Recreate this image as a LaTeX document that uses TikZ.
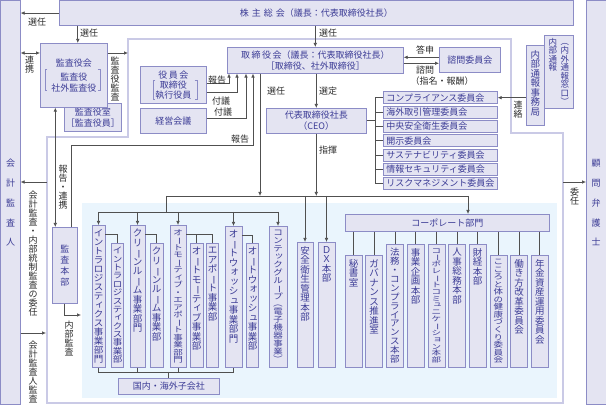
\documentclass[tikz,border=0pt]{standalone}
\usepackage{fontspec}
\usepackage{graphicx}
\usetikzlibrary{arrows.meta,positioning}

\newfontfamily\jp{Noto Sans CJK JP}

\definecolor{boxline}{HTML}{8C8CC6}
\definecolor{boxfill}{HTML}{E4E4F2}
\definecolor{boxtext}{HTML}{3C3C96}
\definecolor{framec}{HTML}{CACAE6}
\definecolor{bluebg}{HTML}{EAF5FD}
\definecolor{linec}{HTML}{505050}
\definecolor{labtext}{HTML}{2A2A2A}

% vertical writing: one character per line
\makeatletter
\newcommand\vsmall[1]{\raisebox{0.13em}{\kern0.13em#1\kern-0.13em}}
\newcommand\vfix[1]{%
  \ifx#1ー\rotatebox[origin=c]{-90}{ー}%
  \else\ifx#1（\rotatebox[origin=c]{-90}{（}%
  \else\ifx#1）\rotatebox[origin=c]{-90}{）}%
  \else\ifx#1ッ\vsmall{ッ}%
  \else\ifx#1ィ\vsmall{ィ}%
  \else\ifx#1ュ\vsmall{ュ}%
  \else\ifx#1ョ\vsmall{ョ}%
  \else\ifx#1ォ\vsmall{ォ}%
  \else #1\fi\fi\fi\fi\fi\fi\fi\fi}
\def\vst@loop#1{\ifx\relax#1\else\hbox to 1em{\hss\vfix{#1}\hss}\expandafter\vst@loop\fi}
\newcommand\vstack[1]{\vtop{\baselineskip=1em\lineskiplimit=-\maxdimen\lineskip=0pt\vst@loop#1\relax}}
\makeatother

% vertical text, squeezed to #2 pt when too long
\newsavebox\vbx
\newdimen\vdim
\newcommand\vlab[3][9.5]{{\fontsize{#1}{#1}\selectfont
  \sbox\vbx{\vstack{#3}}\vdim=\dimexpr\ht\vbx+\dp\vbx\relax
  \ifdim\vdim>#2pt\pgfmathsetmacro\vfac{#2/\vdim}\else\def\vfac{1}\fi
  \vbox to #2pt{\hbox{\scalebox{1}[\vfac]{\usebox\vbx}}\vss}}}
\newcommand\vtxt[2][9]{{\fontsize{#1}{#1}\selectfont\vstack{#2}}}
\newcommand\brackets[1]{%
  \draw[brkline] ([xshift=2.5pt]#1.north west) -- (#1.north west) -- (#1.south west) -- ([xshift=2.5pt]#1.south west);
  \draw[brkline] ([xshift=-2.5pt]#1.north east) -- (#1.north east) -- (#1.south east) -- ([xshift=-2.5pt]#1.south east);}

\tikzset{
  box/.style={draw=boxline, fill=boxfill, text=boxtext, line width=0.6pt, inner sep=0pt,
    font=\jp\fontsize{9}{11}\selectfont, align=center},
  vbox/.style={box, anchor=north, inner ysep=4pt},
  cbox/.style={box, anchor=west, minimum height=12pt, text width=108pt, inner xsep=3pt, align=left},
  lab/.style={text=labtext, font=\jp\fontsize{9}{10}\selectfont, inner sep=0pt},
  conn/.style={draw=linec, line width=0.7pt},
  arr/.style={conn, -{Latex[length=4pt,width=3.6pt]}},
  arr2/.style={conn, {Latex[length=4pt,width=3.6pt]}-{Latex[length=4pt,width=3.6pt]}},
  brkline/.style={draw=boxline, line width=0.6pt},
  outerframe/.style={draw=framec, line width=2.2pt}
}

\begin{document}
\begin{tikzpicture}[x=1pt, y=-1pt]
\useasboundingbox (0,0) rectangle (606,406);

%podloge
    \fill[bluebg] (82,203) rectangle (557,398);
    \draw[outerframe] (128,39) -- (511,39) -- (511,133) -- (563,133) -- (563,403)
        -- (47,403) -- (47,137) -- (128,137) -- cycle;

%bocni okviri
    \node[box, minimum width=19.5pt, minimum height=404pt, anchor=north west,
        font=\jp\fontsize{9}{19.8}\selectfont] (kaikei) at (0.5,0.5) {会\\計\\監\\査\\人};
    \node[box, minimum width=19.5pt, minimum height=404pt, anchor=north west,
        font=\jp\fontsize{9}{19.8}\selectfont] (bengoshi) at (586,0.5) {顧\\問\\弁\\護\\士};

%gornji dio
    \node[box, minimum width=514pt, minimum height=24.5pt, anchor=north west] (soukai)
        at (59,0.5) {株\hspace{3pt}主\hspace{3pt}総\hspace{3pt}会（議長：代表取締役社長）};

    %nadzor
    \node[box, minimum width=57pt, minimum height=28pt, anchor=north west] (kansashitsu)
        at (64,103) {監査役室\\［監査役員］};
    \node[box, minimum width=67pt, minimum height=64pt, anchor=north west] (kansa)
        at (40,43) {監査役会\\[3pt]監査役\\社外監査役};
    \node[minimum width=55pt, minimum height=20pt, inner sep=0pt] (kansaB) at (72.5,80) {};
    \brackets{kansaB}

    %uprava
    \node[box, minimum width=66pt, minimum height=37pt, anchor=north west,
        font=\jp\fontsize{9}{10}\selectfont] (yakuin) at (140,66) {役\,員\,会\\取締役\\執行役員};
    \node[minimum width=44pt, minimum height=18pt, inner sep=0pt] (yakuinB) at (175,90) {};
    \brackets{yakuinB}
    \node[box, minimum width=66pt, minimum height=25pt, anchor=north west] (keiei)
        at (140,108) {経営会議};
    \node[box, minimum width=176pt, minimum height=26pt, anchor=north west] (torishimari)
        at (227,47) {取\,締\,役\,会（議長：代表取締役社長）\\［取締役、社外取締役］};
    \node[box, minimum width=61pt, minimum height=25pt, anchor=north west] (shimon)
        at (439,47) {諮問委員会};
    \node[box, minimum width=29pt, minimum height=73pt, anchor=north west] (tsuho)
        at (544,35) {\hbox{\vtxt[8.5]{内部通報}\hspace{3.5pt}\vtxt[8.5]{（内外通報窓口）}}};
    \node[box, minimum width=18pt, minimum height=80pt, anchor=north west] (jimu)
        at (526,45) {\vlab{70}{内部通報事務局}};
    \node[box, minimum width=100pt, minimum height=25pt, anchor=north west] (ceo)
        at (266,108) {代表取締役社長\\（CEO）};

    %odbori
    \node[cbox] (c1) at (383,97.7) {コンプライアンス委員会};
    \node[cbox] (c2) at (383,112) {海外取引管理委員会};
    \node[cbox] (c3) at (383,126.3) {中央安全衛生委員会};
    \node[cbox] (c4) at (383,140.6) {開示委員会};
    \node[cbox] (c5) at (383,154.9) {サステナビリティ委員会};
    \node[cbox] (c6) at (383,169.2) {情報セキュリティ委員会};
    \node[cbox] (c7) at (383,183.5) {リスクマネジメント委員会};

%donji dio
    \node[box, minimum width=25pt, minimum height=76pt, anchor=north west] (honbu)
        at (52,227) {監\\査\\本\\部};

    %poslovni odjeli
    \node[vbox, minimum width=13pt] (ilog) at (98.5,225) {\vlab{134}{イントラロジスティクス事業部門}};
    \node[vbox, minimum width=12pt] (ilog2) at (117.5,243) {\vlab{116}{イントラロジスティクス事業部}};
    \node[vbox, minimum width=15pt] (clean) at (137.5,225) {\vlab{134}{クリーンルーム事業部門}};
    \node[vbox, minimum width=13pt] (clean2) at (156.5,243) {\vlab{116}{クリーンルーム事業部}};
    \node[vbox, minimum width=16pt] (auto) at (178,225) {\vlab{134}{オートモーティブ・エアポート事業部門}};
    \node[vbox, minimum width=13pt] (auto2) at (196.5,243) {\vlab{116}{オートモーティブ事業部}};
    \node[vbox, minimum width=12pt] (air) at (212.5,243) {\vlab{116}{エアポート事業部}};
    \node[vbox, minimum width=17pt] (wash) at (233.5,226) {\vlab{133}{オートウォッシュ事業部門}};
    \node[vbox, minimum width=12pt] (wash2) at (252.5,243) {\vlab{116}{オートウォッシュ事業部}};
    \node[vbox, minimum width=18pt] (contec) at (278,226) {\vlab{133}{コンテックグループ（電子機器事業）}};
    \node[vbox, minimum width=16pt] (anzen) at (305,242) {\vlab{117}{安全衛生管理本部}};
    \node[vbox, minimum width=17pt] (dx) at (326.5,242) {\vlab{117}{ＤＸ本部}};
    \node[box, minimum width=101pt, minimum height=16pt, anchor=north west] (kogaisha)
        at (118,378) {国内・海外子会社};

    %korporativni odjel
    \node[box, minimum width=204pt, minimum height=17pt, anchor=north west] (corp)
        at (345,214) {コーポレート部門};
    \node[vbox, minimum width=17pt] (s1) at (353.5,255) {\vlab{104}{秘書室}};
    \node[vbox, minimum width=17pt] (s2) at (374.2,255) {\vlab{104}{ガバナンス推進室}};
    \node[vbox, minimum width=17pt] (s3) at (394.9,244) {\vlab{115}{法務・コンプライアンス本部}};
    \node[vbox, minimum width=17pt] (s4) at (415.6,244) {\vlab{115}{事業企画本部}};
    \node[vbox, minimum width=17pt] (s5) at (436.3,244) {\vlab{115}{コーポレートコミュニケーション本部}};
    \node[vbox, minimum width=17pt] (s6) at (457,244) {\vlab{115}{人事総務本部}};
    \node[vbox, minimum width=17pt] (s7) at (477.7,244) {\vlab{115}{財経本部}};
    \node[vbox, minimum width=17pt] (s8) at (498.4,255) {\vlab{104}{こころと体の健康づくり委員会}};
    \node[vbox, minimum width=17pt] (s9) at (519.1,255) {\vlab{104}{働き方改革委員会}};
    \node[vbox, minimum width=17pt] (s10) at (539.8,255) {\vlab{104}{年金資産運用委員会}};

%veze
    \coordinate (sen2) at ([xshift=4pt]kansa.north);
    \coordinate (renL) at ([yshift=-10pt]kansa.north west);
    \coordinate (kkR) at ([yshift=-10pt]kansa.north east);
    \coordinate (frameNW) at (128,39);
    \draw[arr] (soukai.west) -- (soukai.west -| kaikei.east);
    \draw[arr] (sen2 |- soukai.south) -- (sen2);
    \draw[arr] (soukai.south -| torishimari.north) -- (torishimari.north);
    \draw[arr2] (renL) -- (renL -| kaikei.east);
    \draw[arr] (kkR) -- (kkR -| frameNW);

    \coordinate (hrL) at ([xshift=-9.5pt]honbu.north);
    \coordinate (hkU) at ([xshift=6.5pt]honbu.north);
    \coordinate (hk) at (253,145);
    \draw[arr2] (hrL |- kansa.south) -- (hrL);
    \draw[arr] (hkU) |- (hk) -- (hk |- torishimari.south);

    \coordinate (yk1) at ([yshift=1.5pt]yakuin.east);
    \coordinate (yk2) at ([yshift=-7.5pt]yakuin.east);
    \coordinate (kg1) at ([yshift=2.5pt]keiei.east);
    \draw[arr] (yk1) -| ([xshift=2pt]torishimari.south west);
    \draw[arr] (yk2) -| ([xshift=10pt]torishimari.south west);
    \draw[arr] (kg1) -| ([xshift=19pt]torishimari.south west);

    \coordinate (tsT) at ([yshift=2.5pt]shimon.west);
    \coordinate (smT) at ([yshift=-3pt]torishimari.east);
    \draw[arr] (tsT) -- (tsT -| torishimari.east);
    \draw[arr] (smT) -- (smT -| shimon.west);
    \draw[arr] (jimu.west |- c1.east) -- (c1.east);

    %CEO i odbori
    \coordinate (cmb) at ([xshift=-8pt]c1.west);
    \draw[conn] (cmb) -- (cmb |- c7.west);
    \draw[conn] (ceo.east) -- (ceo.east -| cmb);
    \draw[conn] (cmb) -- (c1.west);
    \draw[conn] (cmb |- c2.west) -- (c2.west);
    \draw[conn] (cmb |- c3.west) -- (c3.west);
    \draw[conn] (cmb |- c4.west) -- (c4.west);
    \draw[conn] (cmb |- c5.west) -- (c5.west);
    \draw[conn] (cmb |- c6.west) -- (c6.west);
    \draw[conn] (cmb |- c7.west) -- (c7.west);

    %sabirnica
    \coordinate (senT) at ([xshift=33pt]torishimari.south west);
    \coordinate (busL) at (166,196);
    \coordinate (busR) at (468,196);
    \coordinate (sb) at (166,212);
    \draw[arr] (senT) -- (senT |- busL);
    \draw[arr] (ceo.north |- torishimari.south) -- (ceo.north);
    \draw[arr] (ceo.south) -- (ceo.south |- busL);
    \draw[conn] (busL) -- (busR);
    \draw[arr] (busR) -- (busR |- corp.north);
    \draw[arr] (anzen.north |- busL) -- (anzen.north);
    \draw[arr] (dx.north |- busL) -- (dx.north);
    \draw[conn] (busL) -- (sb);
    \draw[conn] (ilog.north |- sb) -- (contec.north |- sb);
    \draw[arr] (ilog.north |- sb) -- (ilog.north);
    \draw[arr] (clean.north |- sb) -- (clean.north);
    \draw[arr] (auto.north |- sb) -- (auto.north);
    \draw[arr] (wash.north |- sb) -- (wash.north);
    \draw[arr] (contec.north |- sb) -- (contec.north);

    \draw[conn] ([yshift=-9pt]ilog.north east) -| (ilog2.north);
    \draw[conn] ([yshift=-9pt]clean.north east) -| (clean2.north);
    \draw[conn] ([yshift=-9pt]auto.north east) -| (auto2.north);
    \draw[conn] ([yshift=-9pt]auto.north east) -| (air.north);
    \draw[conn] ([yshift=-9pt]wash.north east) -| (wash2.north);

    \coordinate (kb) at (168,372);
    \draw[conn] (ilog.south) |- (wash.south |- kb) -- (wash.south);
    \draw[conn] (clean.south) -- (clean.south |- kb);
    \draw[conn] (auto.south) -- (auto.south |- kb);
    \draw[conn] (kogaisha.north |- kb) -- (kogaisha.north);

    \draw[conn] (corp.south -| s1.north) -- (s1.north);
    \draw[conn] (corp.south -| s2.north) -- (s2.north);
    \draw[conn] (corp.south -| s3.north) -- (s3.north);
    \draw[conn] (corp.south -| s4.north) -- (s4.north);
    \draw[conn] (corp.south -| s5.north) -- (s5.north);
    \draw[conn] (corp.south -| s6.north) -- (s6.north);
    \draw[conn] (corp.south -| s7.north) -- (s7.north);
    \draw[conn] (corp.south -| s8.north) -- (s8.north);
    \draw[conn] (corp.south -| s9.north) -- (s9.north);
    \draw[conn] (corp.south -| s10.north) -- (s10.north);

    %vanjske strelice
    \coordinate (frameE) at (563,182);
    \coordinate (frameW) at (47,182);
    \coordinate (frameW2) at (46,333);
    \coordinate (blueW) at (81,315);
    \draw[arr] (frameE) -- (frameE -| bengoshi.west);
    \draw[arr] (frameW) -- (frameW -| kaikei.east);
    \draw[arr] (frameW2 -| kaikei.east) -- (frameW2);
    \draw[arr] ([xshift=-0.5pt]honbu.south) |- (blueW);

%oznake
    \node[lab] (l1) at (37,22.5) {選任};
    \node[lab] (l2) at (89,33) {選任};
    \node[lab] (l3) at (328,33) {選任};
    \node[lab] (l4) at (217,80) {報告};
    \node[lab] (l5) at (221,101) {付議};
    \node[lab] (l6) at (223,112) {付議};
    \node[lab] (l7) at (240,139) {報告};
    \node[lab] (l8) at (276,91) {選任};
    \node[lab] (l9) at (328,91) {選定};
    \node[lab] (l10) at (328,150) {指揮};
    \node[lab] (l11) at (425,50) {答申};
    \node[lab] (l12) at (425,70) {諮問};
    \node[lab] (l13) at (442,81) {（指名・報酬）};

    \node[lab] (v1) at (29.5,65) {\vtxt{連携}};
    \node[lab] (v2) at (115,79) {\vtxt{監査役監査}};
    \node[lab] (v3) at (63,187) {\vtxt{報告・連携}};
    \node[lab] (v4) at (33,254) {\vtxt{会計監査・内部統制監査の委任}};
    \node[lab] (v5) at (33,372) {\vtxt{会計監査人監査}};
    \node[lab] (v6) at (69,338) {\vtxt{内部監査}};
    \node[lab] (v7) at (518,110) {\vtxt{連絡}};
    \node[lab] (v8) at (574.5,196.5) {\vtxt{委任}};
\end{tikzpicture}
\end{document}
